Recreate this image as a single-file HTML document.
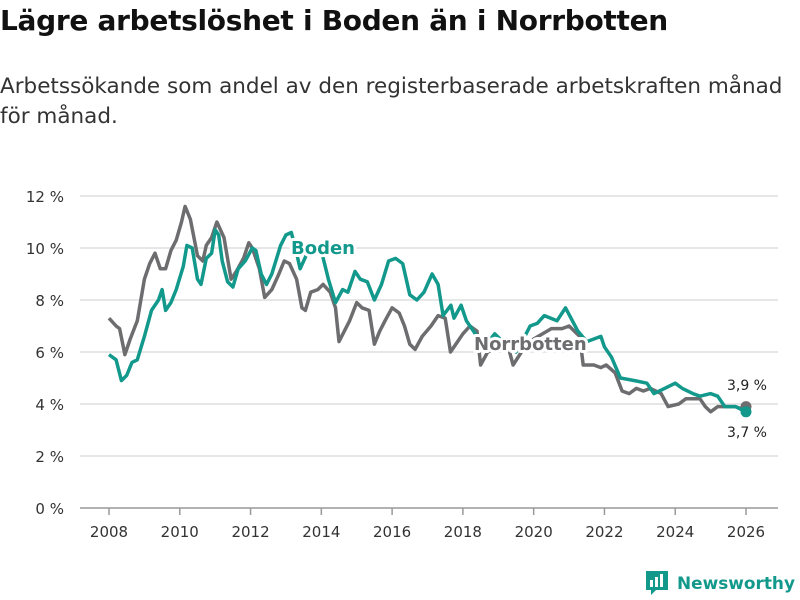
<!DOCTYPE html>
<html><head><meta charset="utf-8"><style>
body{margin:0;background:#fff;width:800px;height:600px;overflow:hidden;font-family:"DejaVu Sans","Liberation Sans",sans-serif;}
#title{position:absolute;left:0;top:4px;font-size:28px;font-weight:bold;color:#111;margin:0;letter-spacing:-0.3px;white-space:nowrap}
#sub{position:absolute;left:0;top:72px;width:800px;font-size:21.5px;color:#333;line-height:30px;margin:0;white-space:nowrap}
svg{position:absolute;left:0;top:0}
</style></head><body>
<h1 id="title">Lägre arbetslöshet i Boden än i Norrbotten</h1>
<p id="sub">Arbetssökande som andel av den registerbaserade arbetskraften månad<br>för månad.</p>
<svg id="chart" width="800" height="600"></svg>
<script>
const yTicks=[0,2,4,6,8,10,12];
const yTickLabels=["0 %","2 %","4 %","6 %","8 %","10 %","12 %"];
const xTicks=[2008,2010,2012,2014,2016,2018,2020,2022,2024,2026];
const bodenDates=[2008.0,2008.2,2008.35,2008.5,2008.65,2008.8,2009.0,2009.2,2009.4,2009.5,2009.6,2009.75,2009.9,2010.1,2010.2,2010.35,2010.5,2010.6,2010.75,2010.9,2011.0,2011.1,2011.2,2011.35,2011.5,2011.65,2011.85,2012.05,2012.15,2012.3,2012.45,2012.6,2012.85,2013.0,2013.15,2013.3,2013.4,2013.6,2014.0,2014.2,2014.4,2014.6,2014.75,2014.95,2015.1,2015.3,2015.5,2015.7,2015.9,2016.1,2016.3,2016.5,2016.7,2016.9,2017.13,2017.3,2017.44,2017.66,2017.75,2017.95,2018.1,2018.3,2018.6,2018.9,2019.2,2019.5,2019.75,2019.9,2020.1,2020.3,2020.66,2020.9,2021.25,2021.5,2021.9,2022.0,2022.2,2022.45,2022.85,2023.2,2023.4,2023.7,2024.0,2024.2,2024.5,2024.7,2025.0,2025.2,2025.4,2025.7,2026.0];
const bodenValues=[5.9,5.7,4.9,5.1,5.6,5.7,6.6,7.6,8.0,8.4,7.6,7.9,8.4,9.3,10.1,10.0,8.8,8.6,9.6,9.8,10.7,10.5,9.5,8.7,8.5,9.2,9.5,10.0,9.9,9.0,8.6,9.0,10.1,10.5,10.6,9.8,9.2,9.8,9.9,8.8,7.9,8.4,8.3,9.1,8.8,8.7,8.0,8.6,9.5,9.6,9.4,8.2,8.0,8.3,9.0,8.6,7.4,7.8,7.3,7.8,7.2,6.8,6.2,6.7,6.3,6.0,6.6,7.0,7.1,7.4,7.2,7.7,6.8,6.4,6.6,6.2,5.8,5.0,4.9,4.8,4.4,4.6,4.8,4.6,4.4,4.3,4.4,4.3,3.9,3.9,3.7];
const norrDates=[2008.0,2008.2,2008.3,2008.45,2008.6,2008.8,2009.0,2009.15,2009.3,2009.45,2009.6,2009.75,2009.9,2010.05,2010.15,2010.3,2010.5,2010.65,2010.75,2010.9,2011.05,2011.25,2011.45,2011.6,2011.8,2011.95,2012.05,2012.25,2012.4,2012.6,2012.8,2012.95,2013.1,2013.3,2013.45,2013.55,2013.7,2013.9,2014.05,2014.25,2014.4,2014.5,2014.65,2014.8,2015.0,2015.15,2015.35,2015.5,2015.65,2015.8,2016.0,2016.2,2016.35,2016.5,2016.65,2016.85,2017.1,2017.3,2017.5,2017.65,2017.85,2018.0,2018.2,2018.4,2018.5,2018.7,2019.0,2019.3,2019.42,2019.7,2020.0,2020.5,2020.8,2021.0,2021.3,2021.4,2021.7,2021.9,2022.05,2022.3,2022.5,2022.7,2022.9,2023.1,2023.3,2023.6,2023.8,2024.1,2024.3,2024.7,2024.85,2025.0,2025.2,2025.5,2025.7,2025.9,2026.0];
const norrValues=[7.3,7.0,6.9,5.9,6.5,7.2,8.8,9.4,9.8,9.2,9.2,9.9,10.3,11.0,11.6,11.1,9.7,9.5,10.1,10.4,11.0,10.4,8.8,9.1,9.6,10.2,10.0,9.2,8.1,8.4,9.0,9.5,9.4,8.8,7.7,7.6,8.3,8.4,8.6,8.3,7.7,6.4,6.8,7.2,7.9,7.7,7.6,6.3,6.8,7.2,7.7,7.5,7.0,6.3,6.1,6.6,7.0,7.4,7.3,6.0,6.4,6.7,7.0,6.8,5.5,6.0,6.2,6.1,5.5,6.1,6.5,6.9,6.9,7.0,6.6,5.5,5.5,5.4,5.5,5.2,4.5,4.4,4.6,4.5,4.6,4.4,3.9,4.0,4.2,4.2,3.9,3.7,3.9,3.9,3.9,3.8,3.9];
const X0=109,X1=746,Y0=508,Y1=196;
const x=v=>X0+(v-2008)/(2026-2008)*(X1-X0);
const y=v=>Y0-v/12*(Y0-Y1);
const NS="http://www.w3.org/2000/svg";
const svg=document.getElementById('chart');
function mk(t,a,p){const e=document.createElementNS(NS,t);for(const k in a)e.setAttribute(k,a[k]);(p||svg).appendChild(e);return e;}
yTicks.forEach((t,i)=>{
 const g=mk('line',{x1:80,x2:778,y1:y(t),y2:y(t),stroke:t===0?'#999':'#ddd','stroke-width':1.5});
 
 
 const l=mk('text',{x:64,y:y(t)+6,'text-anchor':'end','font-size':15,fill:'#333'});
 l.textContent=yTickLabels[i];
 
 
});
xTicks.forEach(t=>{
 const tk=mk('line',{x1:x(t),x2:x(t),y1:508,y2:515,stroke:'#999','stroke-width':1.5});
 
 
 const l=mk('text',{x:x(t),y:537,'text-anchor':'middle','font-size':15,fill:'#333'});
 l.textContent=t;
 
 
});
function line(d,v,c,name){
 const p=mk('path',{d:d.map((t,i)=>(i?'L':'M')+x(t).toFixed(1)+','+y(v[i]).toFixed(1)).join(''),fill:'none',stroke:c,'stroke-width':3.5,'stroke-linejoin':'round'});
 
 
 const n=d.length-1;
 const dot=mk('circle',{cx:x(d[n]),cy:y(v[n]),r:5.5,fill:c});
 
 
}
line(norrDates,norrValues,'#6d6d70','norrbotten-line');
line(bodenDates,bodenValues,'#13998c','boden-line');
function lab(t,xx,yy,c,name,w,sz,anchor){
 const e=mk('text',{x:xx,y:yy,'font-size':sz,'font-weight':w,fill:c,stroke:'#fff','stroke-width':w==='bold'?6:4,'paint-order':'stroke','stroke-linejoin':'round','text-anchor':anchor||'start'});
 e.textContent=t;
 
 
}
lab('Boden',291,254,'#13998c','boden-label','bold',18);
lab('Norrbotten',474,350,'#6d6d70','norrbotten-label','bold',18);
lab('3,9 %',767,390,'#222','norrbotten-end-value','normal',14,'end');
lab('3,7 %',767,437,'#222','boden-end-value','normal',14,'end');
const lg=mk('g',{});


mk('path',{d:'M646 571 h22 v19 h-12 l-5 5 v-5 h-5 z',fill:'#13998c'},lg);
mk('rect',{x:650,y:580,width:3,height:7,fill:'#fff'},lg);
mk('rect',{x:655,y:577,width:3,height:10,fill:'#fff'},lg);
mk('rect',{x:660,y:574,width:3,height:13,fill:'#fff'},lg);
const lt=mk('text',{x:677,y:589,'font-size':17,'font-weight':'bold',fill:'#13998c',textLength:118,lengthAdjust:'spacingAndGlyphs'},lg);
lt.textContent='Newsworthy';
</script>
</body></html>
